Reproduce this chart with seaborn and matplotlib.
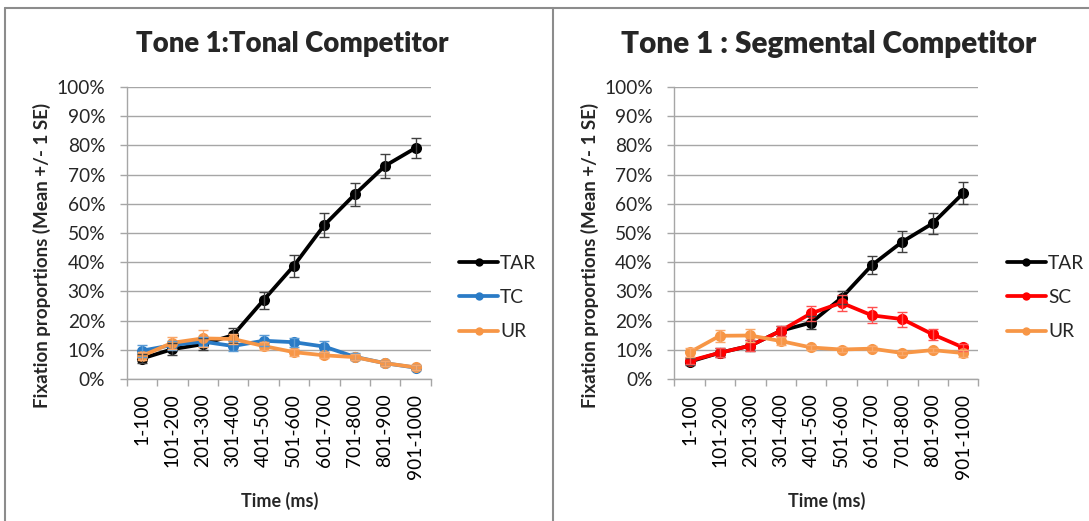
import numpy as np
import pandas as pd
import matplotlib
matplotlib.use("Agg")
import matplotlib.pyplot as plt
import seaborn as sns
from matplotlib.ticker import PercentFormatter, FixedLocator
from matplotlib.lines import Line2D

# ---------------- data ----------------
categories = ['1-100', '101-200', '201-300', '301-400', '401-500',
              '501-600', '601-700', '701-800', '801-900', '901-1000']

left_title = "Tone 1:Tonal Competitor"
left_series = ['TAR', 'TC', 'UR']
tar_left = [7.0, 10.2, 11.9, 15.0, 27.0, 38.8, 52.7, 63.2, 73.0, 79.1]
tar_left_se = [1.6, 2.0, 2.0, 2.5, 2.9, 3.7, 4.0, 4.0, 4.0, 3.3]
tc_left = [9.7, 11.6, 12.8, 11.3, 13.1, 12.6, 11.1, 7.6, 5.4, 3.9]
tc_left_se = [2.0, 1.5, 1.5, 1.8, 1.8, 1.5, 1.8, 1.2, 0.8, 0.8]
ur_left = [7.9, 12.4, 13.9, 13.7, 11.3, 9.2, 8.1, 7.5, 5.4, 4.0]
ur_left_se = [1.5, 2.0, 2.8, 1.8, 1.5, 1.2, 1.0, 1.0, 0.8, 0.8]

right_title = "Tone 1 : Segmental Competitor"
right_series = ['TAR', 'SC', 'UR']
tar_right = [5.9, 9.0, 11.4, 16.5, 19.3, 27.8, 39.0, 47.0, 53.3, 63.6]
tar_right_se = [1.2, 1.6, 1.8, 1.8, 2.3, 2.2, 3.0, 3.6, 3.7, 3.7]
sc_right = [6.2, 9.0, 11.4, 16.5, 22.5, 26.1, 21.8, 20.5, 15.3, 10.8]
sc_right_se = [1.2, 1.6, 1.8, 1.8, 2.5, 2.7, 2.7, 2.6, 1.9, 1.2]
ur_right = [9.1, 14.8, 14.9, 13.0, 10.8, 10.1, 10.4, 8.9, 9.9, 8.9]
ur_right_se = [1.5, 2.0, 2.2, 1.5, 1.0, 1.0, 0.8, 0.8, 0.8, 1.2]

y_ticks = [0, 10, 20, 30, 40, 50, 60, 70, 80, 90, 100]
y_label = "Fixation proportions (Mean +/- 1 SE)"
x_label = "Time (ms)"

colors = {'TAR': '#000000', 'TC': '#2A7BC6', 'UR': '#F79646', 'SC': '#FF0000'}
err_colors = {'TAR': '#404040', 'TC': '#5B9BD5', 'UR': '#F9A86A', 'SC': '#FF5050'}

# ---------------- style ----------------
sns.set_style("white")
plt.rcParams['font.family'] = ['Lato', 'DejaVu Sans']

W, H = 1089, 521
fig = plt.figure(figsize=(W / 100, H / 100), dpi=100)


def fx(px):
    return px / W


def fy(py):
    return 1 - py / H


ax_w = 304 / W
ax_h = 292 / H
ax_b = fy(379)
ax_left = fig.add_axes([fx(126.7), ax_b, ax_w, ax_h])
ax_right = fig.add_axes([fx(674.3), ax_b, ax_w, ax_h])

TICK_FS = 13.8
LW = 2.7


def draw_panel(ax, series_names, values, ses, title, title_x, title_fs, leg_x):
    rows = []
    for name, vals in zip(series_names, values):
        for i, v in enumerate(vals):
            rows.append({'idx': i, 'value': v, 'series': name})
    df = pd.DataFrame(rows)
    sns.lineplot(data=df, x='idx', y='value', hue='series',
                 hue_order=series_names,
                 palette={n: colors[n] for n in series_names},
                 marker='o', markersize=8, markeredgewidth=0,
                 linewidth=LW, ax=ax, legend=False, zorder=3)
    for name, vals, se in zip(series_names, values, ses):
        ax.errorbar(np.arange(len(vals)), vals, yerr=se, fmt='none',
                    ecolor=err_colors[name], elinewidth=1.0, capsize=3.5,
                    capthick=1.0, zorder=4)

    ax.set_xlim(-0.5, len(categories) - 0.5)
    ax.set_ylim(0, 100)
    ax.set_yticks(y_ticks)
    ax.yaxis.set_major_formatter(PercentFormatter(xmax=100, decimals=0))
    ax.grid(axis='y', color='#A6A6A6', linewidth=1.0)
    ax.grid(axis='x', visible=False)
    ax.set_axisbelow(True)

    # x ticks: marks at boundaries, labels at centres
    ax.xaxis.set_major_locator(FixedLocator(np.arange(-0.5, len(categories), 1.0)))
    ax.xaxis.set_major_formatter(plt.NullFormatter())
    ax.xaxis.set_minor_locator(FixedLocator(np.arange(len(categories))))
    ax.set_xticklabels(categories, minor=True, rotation=90)
    ax.tick_params(axis='x', which='major', length=5, width=1, color='#A6A6A6',
                   direction='out', bottom=True)
    ax.tick_params(axis='x', which='minor', length=0, pad=10.5,
                   labelsize=TICK_FS, labelcolor='#000000')
    ax.tick_params(axis='y', length=5, width=1, color='#A6A6A6',
                   direction='out', left=True, pad=10.5, labelsize=TICK_FS)

    for s in ['top', 'right']:
        ax.spines[s].set_visible(False)
    for s in ['left', 'bottom']:
        ax.spines[s].set_color('#A6A6A6')
        ax.spines[s].set_linewidth(1.0)
    ax.set_xlabel('')
    ax.set_ylabel('')

    handles = [Line2D([], [], color=colors[n], linewidth=LW, marker='o',
                      markersize=6, markeredgewidth=0) for n in series_names]
    ax.legend(handles, series_names, loc='center left',
              bbox_to_anchor=(leg_x, (379 - 297.7) / 292),
              frameon=False, fontsize=TICK_FS, handlelength=2.05,
              handletextpad=0.1, labelspacing=0.9, borderpad=0,
              borderaxespad=0)

    fig.text(fx(title_x), fy(44), title, ha='center', va='center',
             fontsize=title_fs, fontweight='heavy')


draw_panel(ax_left, left_series, [tar_left, tc_left, ur_left],
           [tar_left_se, tc_left_se, ur_left_se], left_title, 292, 19.8,
           (459 - 126.7) / 304)
draw_panel(ax_right, right_series, [tar_right, sc_right, ur_right],
           [tar_right_se, sc_right_se, ur_right_se], right_title, 829, 21.3,
           (1006.7 - 674.3) / 304)

# axis titles
for yl_x, xl_x in [(42, 280), (590, 827)]:
    fig.text(fx(yl_x), fy(255), y_label, rotation=90, ha='center',
             va='center', fontsize=13.5, fontweight='bold')
    fig.text(fx(xl_x), fy(501), x_label, ha='center', va='center',
             fontsize=13, fontweight='bold')

# panel borders
bc = '#8C8C8C'
fig.add_artist(Line2D([fx(5), fx(1089)], [fy(8), fy(8)], color=bc, lw=1.5))
fig.add_artist(Line2D([fx(5), fx(5)], [fy(8), fy(521)], color=bc, lw=1.5))
fig.add_artist(Line2D([fx(553), fx(553)], [fy(8), fy(521)], color=bc, lw=1.5))

fig.savefig('out.png', dpi=100)
